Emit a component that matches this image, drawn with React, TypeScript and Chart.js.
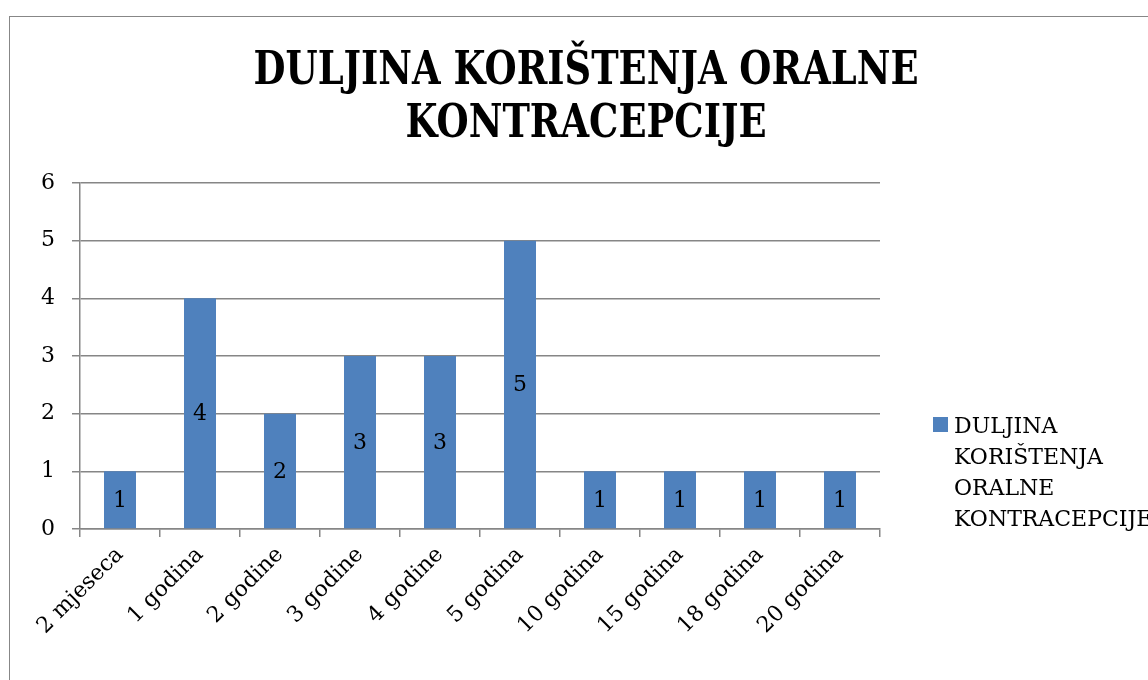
import React, { useEffect, useRef } from "react";
import { Chart, registerables } from "chart.js";

Chart.register(...registerables);

const categories = [
  "2 mjeseca",
  "1 godina",
  "2 godine",
  "3 godine",
  "4 godine",
  "5 godina",
  "10 godina",
  "15 godina",
  "18 godina",
  "20 godina",
];
const values = [1, 4, 2, 3, 3, 5, 1, 1, 1, 1];
const seriesName = "DULJINA KORIŠTENJA ORALNE KONTRACEPCIJE";
const titleLines = ["DULJINA KORIŠTENJA ORALNE", "KONTRACEPCIJE"];
const legendLines = ["DULJINA", "KORIŠTENJA", "ORALNE", "KONTRACEPCIJE"];
const yMin = 0;
const yMax = 6;
const yStep = 1;

const BAR_COLOR = "#4F81BD";
const GRID = "#868686";
const SERIF = "'DejaVu Serif', 'Liberation Serif', serif";

const framePlugin = {
  id: "frame",
  beforeDraw(chart: any) {
    const { ctx } = chart;
    ctx.save();
    ctx.fillStyle = "#ffffff";
    ctx.fillRect(0, 0, chart.width, chart.height);
    ctx.strokeStyle = "#878787";
    ctx.lineWidth = 1;
    ctx.strokeRect(9.5, 16.5, 3000, 3000);
    ctx.restore();
  },
};

const titlePlugin = {
  id: "customTitle",
  afterDraw(chart: any) {
    const { ctx } = chart;
    ctx.save();
    ctx.font = `bold 46px ${SERIF}`;
    ctx.fillStyle = "#000";
    ctx.textBaseline = "alphabetic";
    ctx.textAlign = "center";
    const w0 = ctx.measureText(titleLines[0]).width;
    const sx = 665 / w0;
    const cx = 586;
    const baselines = [84, 137];
    titleLines.forEach((line, i) => {
      ctx.save();
      ctx.translate(cx, baselines[i]);
      ctx.scale(sx, 1);
      ctx.fillText(line, 0, 0);
      ctx.restore();
    });
    ctx.restore();
  },
};

const legendPlugin = {
  id: "customLegend",
  afterDraw(chart: any) {
    const { ctx } = chart;
    ctx.save();
    ctx.fillStyle = BAR_COLOR;
    ctx.fillRect(933, 417, 15, 15);
    ctx.font = `22px ${SERIF}`;
    ctx.fillStyle = "#000";
    ctx.textAlign = "left";
    ctx.textBaseline = "alphabetic";
    const bases = [433, 464, 495, 526];
    legendLines.forEach((l, i) => ctx.fillText(l, 954, bases[i]));
    ctx.restore();
  },
};

const valueLabelPlugin = {
  id: "valueLabels",
  afterDatasetsDraw(chart: any) {
    const { ctx } = chart;
    const meta = chart.getDatasetMeta(0);
    const data = chart.data.datasets[0].data;
    ctx.save();
    ctx.font = `22px ${SERIF}`;
    ctx.fillStyle = "#000";
    ctx.textAlign = "center";
    ctx.textBaseline = "middle";
    meta.data.forEach((el: any, i: number) => {
      const p = el.getProps(["x", "y", "base"], true);
      ctx.fillText(String(data[i]), p.x, (p.y + p.base) / 2 + 1);
    });
    ctx.restore();
  },
};

export default function App() {
  const ref = useRef<HTMLCanvasElement>(null);
  useEffect(() => {
    if (!ref.current) return;
    const chart = new Chart(ref.current, {
      type: "bar",
      data: {
        labels: categories,
        datasets: [
          {
            label: seriesName,
            data: values,
            backgroundColor: BAR_COLOR,
            borderWidth: 0,
            categoryPercentage: 1,
            barPercentage: 0.4,
          },
        ],
      },
      options: {
        animation: false,
        responsive: true,
        maintainAspectRatio: false,
        layout: { padding: { left: 0, right: 268, top: 183, bottom: 0 } },
        plugins: {
          legend: { display: false },
          title: { display: false },
          tooltip: { enabled: false },
        },
        scales: {
          x: {
            offset: true,
            grid: {
              display: true,
              offset: true,
              drawOnChartArea: false,
              drawTicks: true,
              tickLength: 8,
              color: GRID,
              lineWidth: 1.5,
            },
            border: { display: true, color: GRID, width: 1.5 },
            ticks: {
              minRotation: 45,
              maxRotation: 45,
              autoSkip: false,
              color: "#000",
              padding: 5,
              font: { family: SERIF, size: 22 },
            },
            afterFit: (s: any) => {
              s.height = 151;
            },
          },
          y: {
            min: yMin,
            max: yMax,
            grid: {
              color: GRID,
              lineWidth: 1.5,
              drawTicks: true,
              tickLength: 8,
            },
            border: { display: true, color: GRID, width: 1.5 },
            ticks: {
              stepSize: yStep,
              color: "#000",
              padding: 17,
              font: { family: SERIF, size: 22 },
            },
            afterFit: (s: any) => {
              s.width = 80;
            },
          },
        },
      },
      plugins: [framePlugin, valueLabelPlugin, titlePlugin, legendPlugin],
    });
    return () => chart.destroy();
  }, []);
  return (
    <div style={{ position: "absolute", left: 0, top: 0, width: 1148, height: 680 }}>
      <canvas ref={ref} />
    </div>
  );
}
